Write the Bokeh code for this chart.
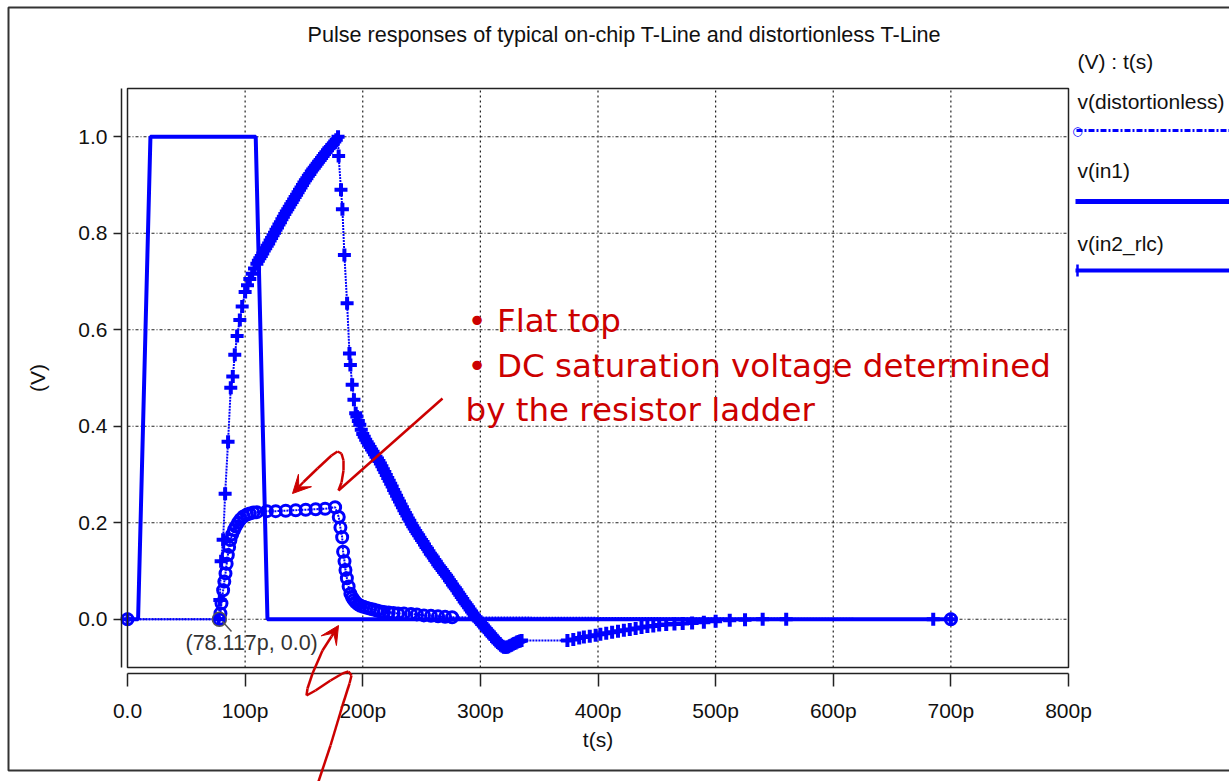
from bokeh.plotting import figure
from bokeh.models import (Range1d, FixedTicker, NumeralTickFormatter, Label,
                          BoxAnnotation, Arrow, VeeHead)
from bokeh.embed import file_html
from bokeh.resources import INLINE

# ---------------- data (time in ps, voltage in V) ----------------
t_in1 = [0, 9, 19.5, 109, 119, 700]
v_in1 = [0.0, 0.0, 1.0, 1.0, 0.0, 0.0]

t_dist = [0, 78.1, 79, 79.9, 81.3, 82.3, 83.3, 84.3, 85.3, 86.4, 87.5, 89, 90.5,
          92, 94, 96, 98.5, 101.5, 104, 107, 110, 118.5, 126, 134.5, 143, 151.5,
          160, 168, 176.5, 179.6, 181, 182.5, 183.3, 184.5, 185.3, 186.5, 188,
          189.5, 191, 192.5, 194, 196, 198, 200.5, 203, 206, 209, 212, 215, 218,
          222, 226, 230, 235, 241, 246, 252, 258, 264, 270, 276, 700]
v_dist = [0.0, 0.0, 0.012, 0.033, 0.06, 0.078, 0.095, 0.115, 0.133, 0.15, 0.164,
          0.176, 0.185, 0.192, 0.2, 0.207, 0.213, 0.217, 0.219, 0.221, 0.222,
          0.224, 0.224, 0.225, 0.226, 0.227, 0.228, 0.229, 0.232, 0.212, 0.19,
          0.17, 0.14, 0.12, 0.102, 0.085, 0.068, 0.053, 0.045, 0.04, 0.035, 0.031,
          0.028, 0.026, 0.024, 0.022, 0.02, 0.018, 0.016, 0.015, 0.014, 0.013,
          0.012, 0.012, 0.011, 0.01, 0.008, 0.007, 0.006, 0.005, 0.004, 0.0]

t_rlc = [0, 77.5, 78.5, 79.6, 81.3, 83, 85.5, 87.8, 89.5, 91.2, 93.2, 95.5, 97.5,
         100, 102, 104, 106, 108,
         110, 111.25, 112.5, 113.75, 115, 116.25, 117.5, 118.75, 120, 121.25,
         122.5, 123.75, 125, 126.25, 127.5, 128.75, 130, 131.25, 132.5, 133.75,
         135, 136.25, 137.5, 138.75, 140, 141.25, 142.5, 143.75, 145, 146.25,
         147.5, 148.75, 150, 151.25, 152.5, 153.75, 155, 156.25, 157.5, 158.75,
         160, 161.25, 162.5, 163.75, 165, 166.25, 167.5, 168.75, 170, 171.25,
         172.5, 173.75, 175, 176.25, 177.5, 179,
         179.5, 181.5, 182.7, 184.4, 186.7, 188.7, 189.5, 191, 192.5, 194,
         195, 196.25, 197.5, 198.75, 200, 201.25, 202.5, 203.75, 205, 206.25,
         207.5, 208.75, 210, 211.25, 212.5, 213.75, 215, 216.25, 217.5, 218.75,
         220, 221.25, 222.5, 223.75, 225, 226.25, 227.5, 228.75, 230, 231.25,
         232.5, 233.75, 235, 236.25, 237.5, 238.75, 240, 241.25, 242.5, 243.75,
         245, 246.25, 247.5, 248.75, 250, 251.25, 252.5, 253.75, 255, 256.25,
         257.5, 258.75, 260, 261.25, 262.5, 263.75, 265, 266.25, 267.5, 268.75,
         270, 271.25, 272.5, 273.75, 275, 276.25, 277.5, 278.75, 280, 281.25,
         282.5, 283.75, 285, 286.25, 287.5, 288.75, 290, 291.25, 292.5, 293.75,
         295, 296.25, 297.5, 298.75, 300, 301.25, 302.5, 303.75, 305, 306.25,
         307.5, 308.75, 310, 311.25, 312.5, 313.75, 315, 316.25, 317.5, 318.75,
         320, 321.25, 322.5, 323.75, 325, 326.25, 327.5, 328.75, 330, 331.25,
         332.5, 333.75, 335,
         374, 379, 384, 388, 393, 398, 402, 407, 412, 417, 422, 427, 432, 437,
         442, 447, 452, 458, 465, 472, 480, 490, 500, 512, 525, 540, 560, 685, 700]
v_rlc = [0.0, 0.0, 0.04, 0.12, 0.165, 0.26, 0.368, 0.48, 0.503, 0.548, 0.587, 0.62,
         0.648, 0.678, 0.692, 0.705, 0.716, 0.727,
         0.737, 0.743, 0.748, 0.753, 0.758, 0.764, 0.769, 0.774, 0.779, 0.785,
         0.79, 0.796, 0.801, 0.807, 0.812, 0.818, 0.823, 0.829, 0.834, 0.84,
         0.845, 0.85, 0.855, 0.86, 0.865, 0.87, 0.875, 0.88, 0.885, 0.89,
         0.895, 0.9, 0.905, 0.91, 0.914, 0.919, 0.923, 0.928, 0.932, 0.936,
         0.94, 0.944, 0.948, 0.952, 0.956, 0.96, 0.964, 0.968, 0.972, 0.976,
         0.979, 0.983, 0.986, 0.99, 0.994, 1.0,
         0.96, 0.89, 0.85, 0.755, 0.655, 0.551, 0.527, 0.486, 0.455, 0.427,
         0.42, 0.411, 0.403, 0.393, 0.384, 0.378, 0.372, 0.367, 0.362, 0.357,
         0.352, 0.347, 0.342, 0.337, 0.333, 0.328, 0.323, 0.317, 0.311, 0.305,
         0.299, 0.293, 0.287, 0.281, 0.275, 0.268, 0.262, 0.256, 0.25, 0.244,
         0.238, 0.232, 0.226, 0.22, 0.215, 0.209, 0.204, 0.198, 0.193, 0.188,
         0.183, 0.178, 0.174, 0.169, 0.164, 0.16, 0.155, 0.15, 0.146, 0.141,
         0.136, 0.132, 0.128, 0.123, 0.119, 0.114, 0.11, 0.106, 0.102, 0.098,
         0.094, 0.09, 0.086, 0.081, 0.077, 0.072, 0.068, 0.064, 0.06, 0.055,
         0.051, 0.046, 0.042, 0.037, 0.033, 0.029, 0.025, 0.02, 0.016, 0.012,
         0.008, 0.004, 0.0, -0.003, -0.006, -0.01, -0.013, -0.017, -0.02, -0.024,
         -0.027, -0.031, -0.034, -0.038, -0.041, -0.045, -0.048, -0.051, -0.054, -0.056,
         -0.058, -0.058, -0.058, -0.057, -0.055, -0.054, -0.052, -0.05, -0.049, -0.047,
         -0.046, -0.045, -0.044,
         -0.044, -0.042, -0.039, -0.037, -0.035, -0.033, -0.031, -0.029, -0.027,
         -0.025, -0.023, -0.021, -0.019, -0.017, -0.015, -0.014, -0.012, -0.011,
         -0.01, -0.009, -0.008, -0.006, -0.004, -0.002, -0.001, 0.0, 0.0, 0.0, 0.0]

cursor_t = [78.117]
cursor_v = [0.0]
cursor_text = "(78.117p, 0.0)"

x_ticks = [0, 100, 200, 300, 400, 500, 600, 700, 800]
x_tick_labels = ["0.0", "100p", "200p", "300p", "400p", "500p", "600p", "700p", "800p"]
y_ticks = [0.0, 0.2, 0.4, 0.6, 0.8, 1.0]

title_text = "Pulse responses of typical on-chip T-Line and distortionless T-Line"
legend_header = "(V) : t(s)"
series_names = ["v(distortionless)", "v(in1)", "v(in2_rlc)"]
note_lines = ["\u2022 Flat top", "\u2022 DC saturation voltage determined", "by the resistor ladder"]

# ---------------- layout (the frame covers the whole canvas) ----------------
W, H = 1229, 781
X0PX, X800PX = 127, 1068           # inner plot box, canvas px
YTOP, YBOT = 88, 667
AXX, AXY = 121, 673                # y-axis line x, x-axis line y
kx = (X800PX - X0PX) / 800.0
ky = (YBOT - YTOP) / 1.2
x_start = -X0PX / kx
x_end = (W - X0PX) / kx
y_end = 1.1 + YTOP / ky
y_start = -0.1 - (H - YBOT) / ky

BLUE = "#0000ff"
RED = "#cc0000"
FONT = "Liberation Sans"


def sx(X):
    return X


def sy(Y):
    return H - Y


p = figure(width=W, height=H, output_backend="svg", toolbar_location=None,
           x_range=Range1d(x_start, x_end), y_range=Range1d(y_start, y_end),
           min_border_left=0, min_border_right=0, min_border_top=0,
           min_border_bottom=0)
p.outline_line_color = None
p.background_fill_color = "white"
p.border_fill_color = "white"
p.xgrid.grid_line_color = None
p.ygrid.grid_line_color = None

# axes, pinned to their positions just outside the inner box
xa = p.xaxis[0]
xa.fixed_location = -0.1 - (AXY - YBOT) / ky
xa.ticker = FixedTicker(ticks=x_ticks)
xa.major_label_overrides = dict(zip(x_ticks, x_tick_labels))
xa.bounds = (0, 800)
xa.minor_tick_line_color = None
xa.major_tick_in = 0
xa.major_tick_out = 13
xa.major_label_standoff = 12
xa.axis_label = "t(s)"
xa.axis_label_standoff = 3
ya = p.yaxis[0]
ya.fixed_location = -(X0PX - AXX) / kx
ya.ticker = FixedTicker(ticks=y_ticks)
ya.formatter = NumeralTickFormatter(format="0.0")
ya.bounds = (-0.1, 1.1)
ya.minor_tick_line_color = None
ya.major_tick_in = 0
ya.major_tick_out = 8
ya.major_label_standoff = 6
ya.axis_label = "(V)"
ya.axis_label_standoff = 26
for ax in (xa, ya):
    ax.axis_line_color = "#222222"
    ax.axis_line_width = 1.5
    ax.major_tick_line_color = "#222222"
    ax.major_tick_line_width = 1.5
    ax.major_label_text_font = FONT
    ax.major_label_text_font_size = "21px"
    ax.major_label_text_color = "#111111"
    ax.axis_label_text_font = FONT
    ax.axis_label_text_font_size = "21px"
    ax.axis_label_text_font_style = "normal"
    ax.axis_label_text_color = "#111111"

# grid (dotted, inside the inner box only)
vx = x_ticks[1:-1]
p.segment(x0=vx, y0=[-0.1] * len(vx), x1=vx, y1=[1.1] * len(vx),
          line_color="#222222", line_width=1.2, line_dash="2 3")
p.segment(x0=[0] * len(y_ticks), y0=y_ticks, x1=[800] * len(y_ticks), y1=y_ticks,
          line_color="#222222", line_width=1.2, line_dash="3 2 1 2")

# data
p.line(t_in1, v_in1, line_color=BLUE, line_width=4)
p.line(t_dist, v_dist, line_color=BLUE, line_width=2, line_dash="2 1")
p.scatter(t_dist, v_dist, marker="circle", size=11, fill_color=None,
          line_color=BLUE, line_width=3)
p.line(t_rlc, v_rlc, line_color=BLUE, line_width=2, line_dash="2 1")
p.scatter(t_rlc, v_rlc, marker="cross", size=13, line_color=BLUE, line_width=4)

# cursor
p.scatter(cursor_t, cursor_v, marker="circle", size=14, fill_color=None,
          line_color="#555555", line_width=1.5)
p.add_layout(Arrow(x_start=sx(222), y_start=sy(621), x_end=sx(231), y_end=sy(631),
                   start_units="screen", end_units="screen", end=None,
                   line_color="#555555", line_width=1.5))
p.add_layout(Label(x=sx(185), y=sy(654), x_units="screen", y_units="screen",
                   text=cursor_text, text_font=FONT, text_font_size="21.5px",
                   text_color="#333333"))

# inner box and outer border
p.add_layout(BoxAnnotation(left=0, right=800, bottom=-0.1, top=1.1, fill_alpha=0,
                           line_color="#222222", line_width=1.5, line_alpha=1))
p.add_layout(BoxAnnotation(left=sx(8), right=sx(1300), top=sy(7), bottom=sy(770),
                           left_units="screen", right_units="screen",
                           top_units="screen", bottom_units="screen",
                           fill_alpha=0, line_color="#333333", line_width=2,
                           line_alpha=1))

# title
p.add_layout(Label(x=sx(307), y=sy(46), x_units="screen", y_units="screen",
                   text=title_text, text_font=FONT, text_font_size="21.6px",
                   text_color="#111111"))

# legend
p.add_layout(Label(x=sx(1077), y=sy(72), x_units="screen", y_units="screen",
                   text=legend_header, text_font=FONT, text_font_size="21px",
                   text_color="#111111"))
for name, base in zip(series_names, [112, 181, 254]):
    p.add_layout(Label(x=sx(1077), y=sy(base), x_units="screen", y_units="screen",
                       text=name, text_font=FONT, text_font_size="21px",
                       text_color="#111111"))
p.add_layout(Arrow(x_start=sx(1076), y_start=sy(130), x_end=sx(1240), y_end=sy(130),
                   start_units="screen", end_units="screen", end=None,
                   line_color=BLUE, line_width=3, line_dash="6 2 2 2"))
p.add_layout(Arrow(x_start=sx(1075), y_start=sy(201), x_end=sx(1240), y_end=sy(201),
                   start_units="screen", end_units="screen", end=None,
                   line_color=BLUE, line_width=5))
p.add_layout(Arrow(x_start=sx(1075), y_start=sy(270), x_end=sx(1240), y_end=sy(270),
                   start_units="screen", end_units="screen", end=None,
                   line_color=BLUE, line_width=4))
p.add_layout(Label(x=sx(1077), y=sy(130), x_units="screen", y_units="screen",
                   text="\u25cb", text_align="center", text_baseline="middle",
                   text_font="DejaVu Sans", text_font_size="12px", text_color=BLUE))
p.add_layout(Arrow(x_start=sx(1077), y_start=sy(264), x_end=sx(1077), y_end=sy(276),
                   start_units="screen", end_units="screen", end=None,
                   line_color=BLUE, line_width=2.5))

# red annotation text
for txt, base, left in zip(note_lines, [339, 384, 428], [467, 467, 465]):
    p.add_layout(Label(x=sx(left), y=sy(base), x_units="screen", y_units="screen",
                       text=txt, text_font="DejaVu Sans", text_font_size="32.5px",
                       text_color=RED))


def red_path(points, head=True):
    n = len(points)
    for i in range(n - 1):
        (ax_, ay_), (bx_, by_) = points[i], points[i + 1]
        last = head and i == n - 2
        p.add_layout(Arrow(x_start=sx(ax_), y_start=sy(ay_), x_end=sx(bx_), y_end=sy(by_),
                           start_units="screen", end_units="screen",
                           end=VeeHead(size=18, fill_color=RED, line_color=RED) if last else None,
                           line_color=RED, line_width=2.5))


red_path([(442, 398), (338, 490), (341, 482), (343, 470), (343, 460), (341, 453),
          (337, 451), (331, 455), (317, 468), (303, 481.5), (292, 493)])
red_path([(318, 781), (330, 745), (342, 705), (349, 683), (351, 675), (348, 671),
          (342, 673), (330, 680), (315, 690), (306, 695), (307, 688), (312, 673),
          (322, 650), (331, 636), (338, 625)])

open("out.html", "w").write(file_html(p, INLINE))
